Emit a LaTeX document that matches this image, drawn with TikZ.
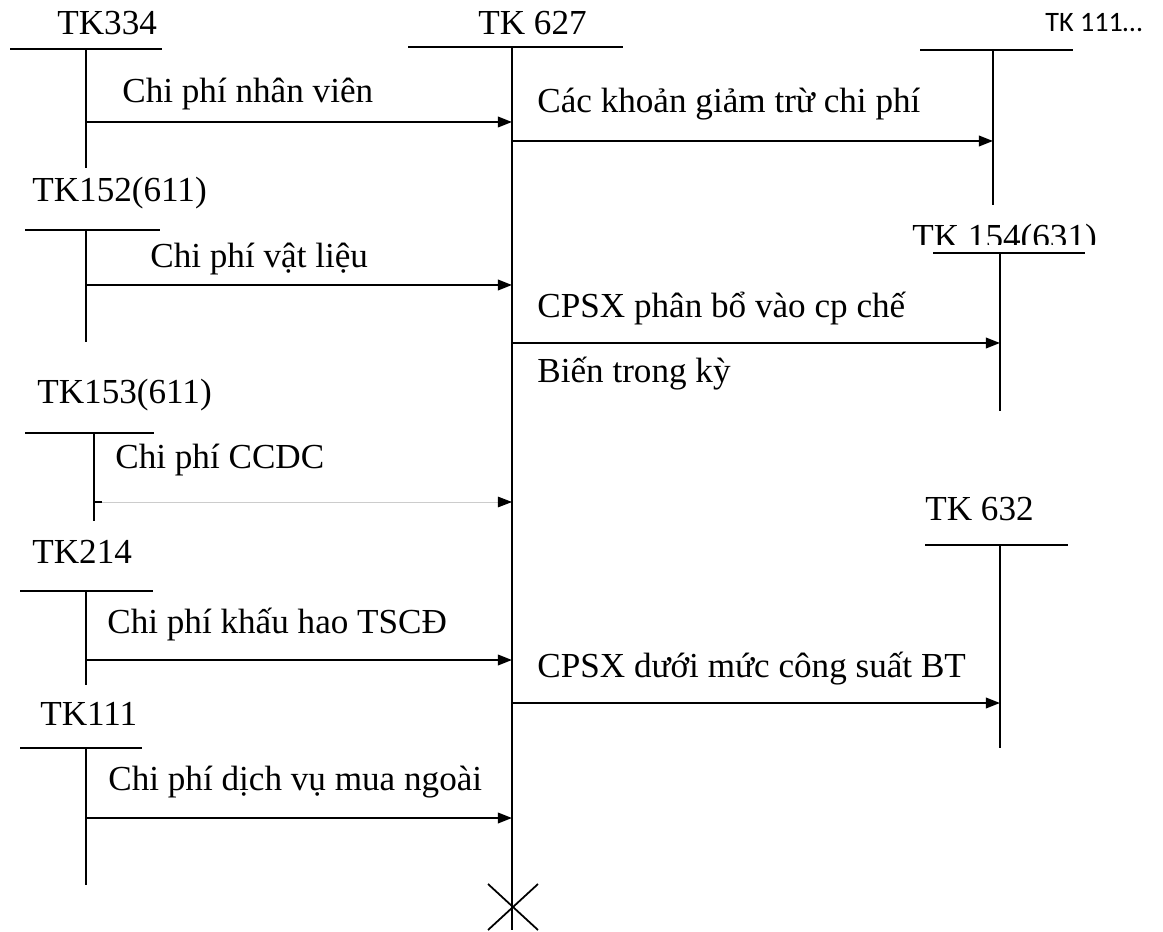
\documentclass[tikz,border=0pt]{standalone}
\usepackage{fontspec}
\setmainfont{Liberation Serif}
\newfontfamily\carlito{Carlito}
\usetikzlibrary{arrows.meta}

\begin{document}
\begin{tikzpicture}[
  x=0.02cm, y=-0.02cm,
  tline/.style={draw=black, line width=1.1pt},
  flow/.style={draw=black, line width=1pt, -{Triangle[length=8pt, width=6pt]}},
  lbl/.style={anchor=base west, inner sep=0pt, font=\fontsize{20}{24}\selectfont}
]
  \useasboundingbox (0,0) rectangle (1163,932);

  % Account names.
  \node[lbl] (tk334) at (57,35) {TK334};
  \node[lbl] (tk627) at (478,35) {TK 627};
  \node[lbl, font=\carlito\fontsize{16}{19}\selectfont] (tk111r) at (1045,32) {TK 111…};
  \node[lbl] (tk152) at (32,202) {TK152(611)};
  \begin{scope}
    \clip (900,200) rectangle (1110,245);
    \node[lbl] (tk154) at (912,249) {TK 154(631)};
  \end{scope}
  \node[lbl] (tk153) at (37,403) {TK153(611)};
  \node[lbl] (tk632) at (925,520) {TK 632};
  \node[lbl] (tk214) at (32,563) {TK214};
  \node[lbl] (tk111) at (40,725) {TK111};

  % T-accounts.
  \draw[tline] (408,47) -- (623,47) (512,47) -- (512,930);
  \draw[tline] (10,49) -- (162,49) (86,49) -- (86,168);
  \draw[tline] (25,230) -- (160,230) (86,230) -- (86,342);
  \draw[tline] (25,433) -- (154,433) (94,433) -- (94,521);
  \draw[tline] (20,591) -- (153,591) (86,591) -- (86,685);
  \draw[tline] (20,748) -- (142,748) (86,748) -- (86,885);
  \draw[tline] (920,50) -- (1073,50) (993,50) -- (993,205);
  \draw[tline] (933,253) -- (1085,253) (1000,253) -- (1000,411);
  \draw[tline] (925,545) -- (1068,545) (1000,545) -- (1000,748);

  % Closing cross under TK 627.
  \draw[line width=1pt] (488,884) -- (538,930) (538,884) -- (488,930);

  % Points on the account lines.
  \coordinate (s334) at (86,122);
  \coordinate (e334) at (512,122);
  \coordinate (s152) at (86,285);
  \coordinate (e152) at (512,285);
  \coordinate (s153) at (94,502);
  \coordinate (e153) at (512,502);
  \coordinate (s214) at (86,660);
  \coordinate (e214) at (512,660);
  \coordinate (s111) at (86,818);
  \coordinate (e111) at (512,818);
  \coordinate (o111) at (512,141);
  \coordinate (t111) at (993,141);
  \coordinate (o154) at (512,343);
  \coordinate (t154) at (1000,343);
  \coordinate (o632) at (512,703);
  \coordinate (t632) at (1000,703);

  % Debit side of TK 627.
  \draw[flow] (s334) -- (e334);
  \draw[flow] (s152) -- (e152);
  \draw[flow, draw=black!20, line width=0.5pt, -{Triangle[length=8pt, width=6pt, black]}] (s153) -- (e153);
  \draw[line width=1pt] (s153) -- ++(8,0);
  \draw[flow] (s214) -- (e214);
  \draw[flow] (s111) -- (e111);

  % Credit side of TK 627.
  \draw[flow] (o111) -- (t111);
  \draw[flow] (o154) -- (t154);
  \draw[flow] (o632) -- (t632);

  % Flow labels.
  \node[lbl] (l334) at (122,103) {Chi phí nhân viên};
  \node[lbl] (l152) at (150,268) {Chi phí vật liệu};
  \node[lbl] (l153) at (115,468) {Chi phí CCDC};
  \node[lbl] (l214) at (107,633) {Chi phí khấu hao TSCĐ};
  \node[lbl] (l111) at (108,790) {Chi phí dịch vụ mua ngoài};
  \node[lbl] (lgiam) at (537,113) {Các khoản giảm trừ chi phí};
  \node[lbl] (lpb1) at (537,318) {CPSX phân bổ vào cp chế};
  \node[lbl] (lpb2) at (537,383) {Biến trong kỳ};
  \node[lbl] (l632) at (537,677) {CPSX dưới mức công suất BT};
\end{tikzpicture}
\end{document}
